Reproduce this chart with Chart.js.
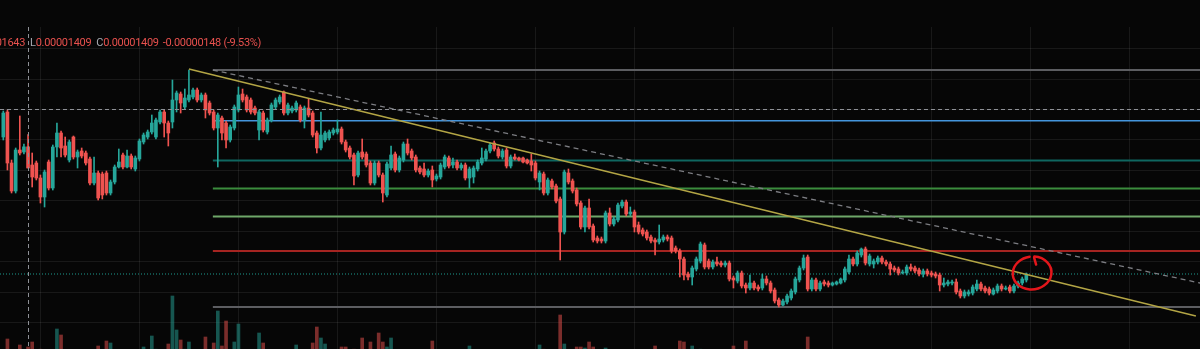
<!DOCTYPE html>
<html>
<head>
<meta charset="utf-8">
<script src="https://cdn.jsdelivr.net/npm/chart.js@4.4.1/dist/chart.umd.min.js"></script>
<style>
  html, body { margin: 0; padding: 0; background: #060606; }
  #wrap { position: relative; width: 1200px; height: 349px; overflow: hidden; background: #060606; }
  #chart { display: block; }
  #legend {
    position: absolute; top: 37px; left: -38px;
    font: 11px Roboto, sans-serif; line-height: 12px; letter-spacing: -0.3px;
    color: #e8514e; white-space: nowrap;
  }
  #legend .k { color: #a7aab1; margin-left: 5px; }
  #legend .k:first-child { margin-left: 0; }
  #legend .chg { margin-left: 4px; }
</style>
</head>
<body>
<div id="wrap">
  <canvas id="chart" width="1200" height="349"></canvas>
  <div id="legend"><span class="k">H</span><span>0.00001643</span><span class="k">L</span><span>0.00001409</span><span class="k">C</span><span>0.00001409</span><span class="chg">-0.00000148 (-9.53%)</span></div>
</div>
<script>
// hourly candles, prices in units of 1e-8
const open = [
  1626, 1801, 1444, 1248, 1535, 1521, 1557, 1430, 1444, 1339, 1206, 1451,
  1269, 1556, 1654, 1563, 1465, 1626, 1486, 1528, 1514, 1472, 1304, 1374,
  1367, 1374, 1234, 1311, 1416, 1500, 1416, 1493, 1402, 1472, 1591, 1626,
  1661, 1626, 1731, 1801, 1724, 1731, 1885, 1927, 1836, 1885, 1906, 1955,
  1885, 1920, 1864, 1801, 1689, 1759, 1724, 1605, 1689, 1815, 1927, 1906,
  1885, 1829, 1675, 1794, 1661, 1745, 1836, 1871, 1941, 1794, 1808, 1815,
  1836, 1745, 1829, 1794, 1654, 1549, 1605, 1619, 1654, 1661, 1682, 1591,
  1549, 1500, 1360, 1521, 1507, 1444, 1304, 1444, 1360, 1220, 1409, 1507,
  1395, 1465, 1577, 1528, 1486, 1409, 1402, 1360, 1395, 1332, 1346, 1416,
  1479, 1430, 1451, 1409, 1430, 1339, 1346, 1402, 1444, 1472, 1528, 1584,
  1542, 1486, 1535, 1423, 1486, 1479, 1479, 1465, 1458, 1444, 1311, 1367,
  1234, 1318, 1283, 1192, 961, 1374, 1318, 1255, 1164, 996, 1129, 1003,
  919, 912, 898, 1094, 1017, 1045, 1143, 1171, 1087, 1101, 1010, 975,
  961, 926, 905, 891, 905, 926, 919, 849, 828, 772, 667, 646,
  702, 758, 870, 758, 716, 751, 744, 730, 744, 639, 618, 674,
  590, 569, 604, 576, 569, 632, 604, 555, 485, 450, 471, 499,
  541, 625, 709, 786, 562, 625, 562, 611, 604, 590, 597, 604,
  625, 681, 772, 737, 800, 842, 737, 737, 751, 779, 751, 737,
  709, 702, 674, 674, 716, 709, 695, 667, 688, 674, 667, 660,
  590, 597, 604, 611, 548, 513, 527, 534, 562, 597, 569, 562,
  527, 548, 583, 562, 576, 548, 583, 604, 625
];
const high = [
  1808, 1815, 1465, 1549, 1773, 1577, 1643, 1514, 1458, 1360, 1395, 1465,
  1570, 1724, 1668, 1626, 1605, 1633, 1535, 1549, 1528, 1486, 1486, 1388,
  1381, 1388, 1325, 1430, 1542, 1514, 1535, 1507, 1493, 1612, 1654, 1675,
  1780, 1759, 1815, 1815, 1738, 2025, 1948, 1941, 1962, 2095, 1969, 1969,
  1934, 1934, 1878, 1815, 1794, 1773, 1738, 1710, 1850, 1976, 1962, 1920,
  1899, 1843, 1815, 1808, 1759, 1864, 1899, 1920, 1948, 1864, 1843, 1878,
  1850, 1843, 1892, 1808, 1668, 1801, 1668, 1675, 1689, 1745, 1696, 1605,
  1563, 1514, 1528, 1612, 1521, 1458, 1458, 1458, 1374, 1451, 1563, 1521,
  1493, 1591, 1612, 1542, 1500, 1423, 1444, 1402, 1423, 1367, 1444, 1500,
  1493, 1479, 1465, 1444, 1444, 1416, 1423, 1465, 1549, 1542, 1584, 1598,
  1556, 1542, 1549, 1500, 1507, 1486, 1486, 1472, 1507, 1458, 1388, 1381,
  1339, 1332, 1297, 1206, 1395, 1402, 1332, 1269, 1178, 1143, 1192, 1017,
  933, 926, 1108, 1129, 1066, 1164, 1185, 1185, 1136, 1115, 1031, 989,
  975, 940, 919, 1010, 940, 940, 933, 863, 842, 786, 681, 723,
  786, 891, 884, 772, 765, 786, 758, 758, 758, 653, 688, 688,
  604, 660, 618, 590, 667, 653, 618, 569, 499, 492, 527, 562,
  646, 723, 800, 800, 639, 639, 618, 625, 618, 611, 618, 639,
  716, 800, 786, 828, 849, 856, 807, 772, 793, 793, 765, 751,
  723, 716, 695, 730, 737, 723, 709, 702, 702, 688, 681, 674,
  639, 625, 625, 632, 562, 555, 555, 590, 625, 611, 583, 576,
  569, 597, 597, 583, 590, 597, 618, 646, 674
];
const low = [
  1605, 1395, 1234, 1234, 1500, 1507, 1409, 1276, 1325, 1164, 1136, 1255,
  1255, 1486, 1486, 1486, 1451, 1472, 1409, 1479, 1430, 1290, 1290, 1185,
  1192, 1220, 1220, 1297, 1409, 1402, 1409, 1402, 1388, 1458, 1577, 1612,
  1647, 1612, 1717, 1626, 1563, 1689, 1801, 1794, 1822, 1871, 1892, 1871,
  1871, 1759, 1780, 1675, 1416, 1605, 1549, 1591, 1675, 1801, 1871, 1801,
  1787, 1780, 1605, 1661, 1647, 1731, 1822, 1857, 1780, 1780, 1794, 1801,
  1731, 1689, 1766, 1626, 1514, 1535, 1591, 1605, 1640, 1647, 1577, 1521,
  1472, 1290, 1346, 1472, 1416, 1290, 1290, 1346, 1171, 1206, 1395, 1381,
  1381, 1451, 1500, 1465, 1381, 1367, 1346, 1346, 1276, 1318, 1332, 1402,
  1409, 1409, 1395, 1395, 1325, 1269, 1304, 1388, 1430, 1458, 1514, 1528,
  1479, 1472, 1409, 1409, 1465, 1458, 1444, 1437, 1388, 1325, 1255, 1220,
  1220, 1262, 1164, 765, 947, 1297, 1234, 1143, 982, 961, 982, 891,
  884, 884, 884, 1003, 1003, 1031, 1129, 1073, 1073, 961, 947, 933,
  905, 884, 800, 877, 891, 898, 814, 814, 646, 625, 625, 590,
  688, 744, 702, 702, 702, 723, 716, 716, 618, 569, 604, 569,
  534, 555, 555, 548, 555, 590, 534, 464, 436, 443, 457, 485,
  527, 611, 695, 548, 548, 548, 548, 583, 576, 583, 590, 597,
  611, 667, 723, 723, 786, 730, 723, 709, 737, 737, 723, 660,
  681, 660, 667, 660, 688, 674, 653, 646, 653, 646, 639, 548,
  576, 583, 590, 527, 499, 499, 513, 520, 548, 548, 534, 520,
  520, 534, 548, 555, 534, 534, 569, 590, 611
];
const close = [
  1794, 1444, 1248, 1535, 1514, 1557, 1409, 1346, 1339, 1206, 1381, 1269,
  1556, 1654, 1549, 1500, 1591, 1486, 1521, 1493, 1444, 1304, 1374, 1199,
  1220, 1234, 1311, 1416, 1451, 1416, 1493, 1416, 1479, 1598, 1640, 1661,
  1724, 1745, 1801, 1724, 1654, 1885, 1934, 1864, 1899, 1920, 1955, 1885,
  1920, 1815, 1794, 1689, 1780, 1654, 1605, 1696, 1836, 1920, 1885, 1815,
  1801, 1794, 1801, 1675, 1745, 1850, 1885, 1906, 1794, 1850, 1829, 1864,
  1745, 1829, 1780, 1640, 1549, 1640, 1654, 1661, 1675, 1682, 1591, 1535,
  1486, 1353, 1514, 1486, 1430, 1304, 1444, 1360, 1234, 1437, 1500, 1395,
  1479, 1577, 1514, 1479, 1395, 1381, 1360, 1388, 1325, 1353, 1430, 1486,
  1423, 1451, 1409, 1430, 1339, 1402, 1409, 1451, 1479, 1528, 1570, 1542,
  1493, 1528, 1423, 1486, 1472, 1465, 1451, 1444, 1430, 1339, 1374, 1234,
  1325, 1276, 1178, 961, 1381, 1311, 1248, 1157, 996, 1129, 996, 905,
  898, 898, 1094, 1017, 1052, 1150, 1171, 1087, 1101, 996, 961, 947,
  919, 898, 891, 912, 926, 912, 828, 828, 772, 660, 646, 709,
  772, 877, 716, 716, 751, 737, 730, 744, 632, 625, 674, 583,
  569, 604, 569, 562, 632, 604, 548, 478, 450, 478, 513, 548,
  632, 709, 779, 562, 625, 562, 604, 597, 590, 604, 611, 632,
  702, 772, 737, 814, 842, 744, 793, 758, 779, 751, 737, 702,
  695, 674, 681, 716, 702, 688, 667, 688, 667, 660, 653, 590,
  604, 611, 611, 541, 513, 541, 541, 576, 597, 562, 548, 534,
  555, 583, 562, 569, 548, 583, 604, 632, 667
];
// volume, millions
const volume = [
  22, 130, 25, 18, 70, 20, 50, 100, 24, 28, 26, 20,
  24, 230, 170, 18, 22, 15, 12, 10, 14, 26, 20, 60,
  24, 110, 90, 22, 18, 16, 14, 12, 18, 26, 50, 24,
  160, 28, 26, 22, 80, 560, 220, 120, 28, 100, 24, 22,
  20, 150, 26, 90, 410, 60, 310, 24, 100, 280, 26, 22,
  20, 18, 190, 90, 24, 26, 18, 14, 26, 16, 12, 70,
  24, 20, 22, 90, 250, 140, 80, 20, 14, 18, 50, 50,
  26, 28, 24, 140, 22, 100, 26, 190, 100, 50, 140, 24,
  22, 26, 24, 18, 26, 12, 16, 10, 110, 10, 18, 20,
  16, 12, 14, 10, 22, 60, 20, 16, 24, 18, 16, 14,
  16, 12, 24, 18, 10, 8, 10, 8, 20, 26, 70, 28,
  24, 16, 26, 370, 80, 26, 22, 50, 50, 40, 100, 50,
  14, 12, 40, 24, 14, 22, 16, 20, 12, 26, 18, 14,
  16, 12, 60, 22, 12, 10, 24, 12, 110, 100, 20, 60,
  26, 28, 26, 16, 14, 12, 8, 8, 24, 60, 18, 22,
  110, 20, 16, 10, 22, 14, 18, 26, 24, 14, 16, 18,
  24, 26, 22, 150, 18, 16, 12, 8, 10, 8, 8, 10,
  20, 26, 14, 22, 16, 24, 14, 10, 8, 8, 8, 14,
  8, 10, 6, 12, 8, 8, 10, 8, 8, 6, 6, 20,
  10, 6, 6, 18, 12, 8, 6, 10, 12, 10, 8, 10,
  8, 10, 8, 6, 8, 10, 12, 14, 16
];

// fib retracement drawn from the swing high to the low, levels 0 .. 1
const fibLevels = ['0', '0.236', '0.382', '0.5', '0.618', '0.786', '1'];
const fibPrices = [436, 828, 1070, 1266, 1461, 1740, 2095];
const fibColors = ['#5c5d61', '#a52421', '#6ea769', '#3b8c3d', '#0f6760', '#4495dc', '#5c5d61'];
const fibStart = 50.8;

// trend lines, {x: candle index, y: price}
const trendMain = [{ x: 45, y: 2102 }, { x: 289.1, y: 373 }];
const trendUpper = [{ x: 50.8, y: 2095 }, { x: 292, y: 592 }];

// pane grid
const gridIdx = [9, 33, 57, 81, 105, 129, 153, 177, 201, 225, 249, 273];
const gridPrices = [2248, 2035, 1822, 1609, 1396, 1183, 970, 757, 544, 332];

// crosshair sits on candle 6 (the one in the legend)
const crossIdx = 6;
const crossPrice = 1820;

// hand-drawn ring around the last candles
const ring = { x: 249.4, y: 674, rx: 4.7, ry: 115 };

const xMin = -0.8, xMax = 290.1;
const UP = '#26a69a', DOWN = '#ef5350';
const isUp = open.map((o, i) => close[i] >= o);
const candleColors = isUp.map(u => (u ? UP : DOWN));
const volColors = isUp.map(u => (u ? 'rgba(38,166,154,0.5)' : 'rgba(239,83,80,0.5)'));
const lastClose = close[close.length - 1];

const paneGrid = {
  id: 'paneGrid',
  beforeDatasetsDraw(chart) {
    const { ctx, chartArea: a, scales: { x, y } } = chart;
    ctx.save();
    ctx.strokeStyle = 'rgba(255,255,255,0.075)';
    ctx.lineWidth = 1;
    ctx.beginPath();
    gridIdx.forEach(v => {
      const px = Math.round(x.getPixelForValue(v)) + 0.5;
      ctx.moveTo(px, a.top);
      ctx.lineTo(px, a.bottom);
    });
    gridPrices.forEach(v => {
      const py = Math.round(y.getPixelForValue(v)) + 0.5;
      ctx.moveTo(a.left, py);
      ctx.lineTo(a.right, py);
    });
    ctx.stroke();
    ctx.restore();
  }
};

const overlays = {
  id: 'overlays',
  afterDatasetsDraw(chart) {
    const { ctx, chartArea: a, scales: { x, y } } = chart;
    ctx.save();
    // crosshair
    ctx.strokeStyle = '#8e9096';
    ctx.lineWidth = 1;
    ctx.setLineDash([4, 3]);
    const cx = Math.round(x.getPixelForValue(crossIdx)) + 0.5;
    const cy = Math.round(y.getPixelForValue(crossPrice)) + 0.5;
    ctx.beginPath();
    ctx.moveTo(cx, a.top);
    ctx.lineTo(cx, a.bottom);
    ctx.moveTo(a.left, cy);
    ctx.lineTo(a.right, cy);
    ctx.stroke();

    // ring
    ctx.setLineDash([]);
    const rx0 = x.getPixelForValue(ring.x);
    const ry0 = y.getPixelForValue(ring.y);
    const rw = Math.abs(x.getPixelForValue(ring.x + ring.rx) - rx0);
    const rh = Math.abs(y.getPixelForValue(ring.y + ring.ry) - ry0);
    ctx.strokeStyle = '#e3161b';
    ctx.lineWidth = 2.5;
    ctx.lineCap = 'round';
    ctx.beginPath();
    ctx.ellipse(rx0, ry0, rw, rh, -0.12, -1.35, -1.35 + Math.PI * 2 - 0.25);
    ctx.stroke();
    ctx.beginPath();
    ctx.moveTo(rx0 + 2, ry0 - rh + 1);
    ctx.lineTo(rx0 + 4, ry0 - rh + 8);
    ctx.stroke();
    ctx.restore();
  }
};

const lineSet = (data, color, width, dash, order) => ({
  type: 'line',
  data,
  borderColor: color,
  borderWidth: width,
  borderDash: dash,
  pointRadius: 0,
  tension: 0,
  order
});

const datasets = [
  {
    type: 'bar',
    label: 'Volume',
    yAxisID: 'vol',
    data: volume.map((v, i) => ({ x: i, y: v })),
    backgroundColor: volColors,
    barThickness: 3,
    grouped: false,
    order: 10
  },
  ...fibPrices.map((p, k) => ({
    ...lineSet([{ x: fibStart, y: p }, { x: xMax, y: p }], fibColors[k], fibLevels[k] === '0.786' ? 1.5 : 2, [], 8),
    label: 'Fib ' + fibLevels[k]
  })),
  { ...lineSet([{ x: xMin, y: lastClose }, { x: xMax, y: lastClose }], '#1c9a8e', 1, [1, 2], 7), label: 'Last' },
  {
    type: 'bar',
    label: 'Wick',
    data: low.map((l, i) => ({ x: i, y: [l, high[i]] })),
    backgroundColor: candleColors,
    barThickness: 1,
    grouped: false,
    order: 4
  },
  {
    type: 'bar',
    label: 'Body',
    data: open.map((o, i) => ({ x: i, y: [o, close[i]] })),
    backgroundColor: candleColors,
    barThickness: 3,
    minBarLength: 1,
    grouped: false,
    order: 3
  },
  { ...lineSet(trendUpper, '#7c7d82', 1.3, [5, 4], 2), label: 'Trend upper' },
  { ...lineSet(trendMain, '#b3a545', 1.5, [], 1), label: 'Trend' }
];

new Chart(document.getElementById('chart'), {
  type: 'bar',
  data: { datasets },
  options: {
    responsive: false,
    animation: false,
    devicePixelRatio: 1,
    events: [],
    layout: { padding: { top: 27, left: 0, right: 0, bottom: 0 } },
    plugins: { legend: { display: false }, tooltip: { enabled: false } },
    scales: {
      x: { type: 'linear', min: xMin, max: xMax, offset: false, display: false },
      y: { type: 'linear', min: 142, max: 2396, display: false },
      vol: { type: 'linear', min: 30, max: 3250, display: false }
    }
  },
  plugins: [paneGrid, overlays]
});
</script>
</body>
</html>
